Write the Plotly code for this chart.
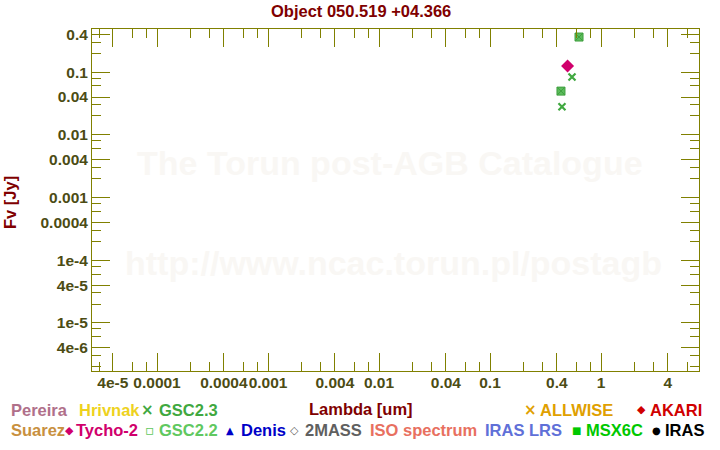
import plotly.graph_objects as go

# ---------------- data ----------------
tycho_lambda = [0.50]
tycho_flux = [0.125]
gsc23_lambda = [0.548, 0.445]
gsc23_flux = [0.0832, 0.0279]
gsc22_lambda = [0.634, 0.436]
gsc22_flux = [0.362, 0.0497]

x_tickvals = [4e-5, 1e-4, 4e-4, 1e-3, 4e-3, 1e-2, 4e-2, 0.1, 0.4, 1, 4]
x_ticktext = ["4e-5", "0.0001", "0.0004", "0.001", "0.004", "0.01", "0.04", "0.1", "0.4", "1", "4"]
y_tickvals = [0.4, 0.1, 0.04, 0.01, 0.004, 0.001, 4e-4, 1e-4, 4e-5, 1e-5, 4e-6]
y_ticktext = ["0.4", "0.1", "0.04", "0.01", "0.004", "0.001", "0.0004", "1e-4", "4e-5", "1e-5", "4e-6"]
minor_mult = [2, 3, 6, 8]
x_decades = list(range(-5, 1))
y_decades = list(range(-6, 0))

legend_labels = ["Pereira", "Hrivnak", "GSC2.3", "ALLWISE", "AKARI",
                 "Suarez", "Tycho-2", "GSC2.2", "Denis", "2MASS",
                 "ISO spectrum", "IRAS LRS", "MSX6C", "IRAS"]
legend_symbols = ["", "", "×", "×", "◆",
                  "", "◆", "▫", "▲", "◇",
                  "", "", "■", "●"]
legend_colors = ["#b0708a", "#eed21e", "#40a840", "#e0a000", "#d00000",
                 "#c89040", "#d0006c", "#60c860", "#0000c8", "#606060",
                 "#e87060", "#6070d8", "#00c800", "#000000"]

# ---------------- layout helpers ----------------
W, H = 720, 450
L, R, T, B = 92, 21, 29, 79
PW, PH = W - L - R, H - T - B

def px(x):
    return (x - L) / PW

def py(y):
    return 1 - (y - T) / PH

# legend positions (pixel): symbol center x, text left x, row y
leg_sym_x = [None, None, 147, 530, 641, None, 69, 150, 230, 294, None, None, 576, 656]
leg_txt_x = [9, 77, 157, 538, 648, 9, 74, 157, 239, 303, 368, 483, 584, 663]
leg_row_y = [410, 410, 410, 410, 410, 430, 430, 430, 430, 430, 430, 430, 430, 430]

FONT = "Liberation Sans, Arial, sans-serif"
OLIVE = "#808000"
TICKFONT = "#4c4c14"
DARKRED = "#800000"

fig = go.Figure()

fig.add_trace(go.Scatter(
    x=gsc22_lambda, y=gsc22_flux, mode="markers", name="GSC2.2",
    marker=dict(symbol="square-x", size=8, color="#5cbc5c",
                line=dict(color="#3f9f3f", width=1))))
fig.add_trace(go.Scatter(
    x=gsc23_lambda, y=gsc23_flux, mode="markers", name="GSC2.3",
    marker=dict(symbol="x-thin", size=7, color="#40a840",
                line=dict(color="#40a840", width=2.2))))
fig.add_trace(go.Scatter(
    x=tycho_lambda, y=tycho_flux, mode="markers", name="Tycho-2",
    marker=dict(symbol="diamond", size=10, color="#d0006c",
                line=dict(width=0))))

x_minor = [m * 10 ** d for d in x_decades for m in minor_mult]
y_minor = [m * 10 ** d for d in y_decades for m in minor_mult]

axis_common = dict(
    type="log", showgrid=False, zeroline=False,
    showline=True, linecolor=OLIVE, linewidth=1, mirror="ticks",
    ticks="inside", ticklen=18, tickwidth=1, tickcolor=OLIVE,
    tickmode="array", tickangle=0,
    tickfont=dict(family=FONT, size=15.5, color=TICKFONT, weight="bold"),
)

fig.update_xaxes(
    **axis_common, range=[-4.586, 0.883],
    tickvals=x_tickvals, ticktext=x_ticktext, ticklabelstandoff=-3,
    minor=dict(tickmode="array", tickvals=x_minor, ticks="inside",
               ticklen=9, tickcolor=OLIVE, tickwidth=1, showgrid=False),
)
fig.update_yaxes(
    **axis_common, range=[-5.767, -0.313],
    tickvals=y_tickvals, ticktext=y_ticktext,
    minor=dict(tickmode="array", tickvals=y_minor, ticks="inside",
               ticklen=9, tickcolor=OLIVE, tickwidth=1, showgrid=False),
)

def note(text, x, y, size, color, xanchor="center", family=FONT, angle=0):
    return dict(text=text, x=px(x), y=py(y), xanchor=xanchor, yanchor="middle",
                xref="paper", yref="paper", showarrow=False, textangle=angle,
                font=dict(family=family, size=size, color=color, weight="bold"))

ann = []
# watermark
ann.append(note("The Torun post-AGB Catalogue", 390, 163, 34, "#f9f7f4"))
ann.append(note("http://www.ncac.torun.pl/postagb", 393, 263, 34, "#f9f7f4"))
# title
ann.append(note("Object 050.519 +04.366", 361, 11, 16.5, DARKRED))
# axis titles
ann.append(note("Lambda [um]", 361, 409, 16.5, DARKRED))
ann.append(note("Fv [Jy]", 10, 203, 16.5, DARKRED, angle=-90))

# legend
sym_sizes = {"×": 15, "◆": 11, "▫": 14, "▲": 10, "◇": 11, "■": 10, "●": 10}
for lab, sym, col, sx, tx, ry in zip(legend_labels, legend_symbols, legend_colors,
                                     leg_sym_x, leg_txt_x, leg_row_y):
    if sym:
        ann.append(note(sym, sx, ry, sym_sizes[sym], col, family="DejaVu Sans"))
    ann.append(note(lab, tx, ry, 16.5, col, xanchor="left"))

fig.update_layout(
    width=W, height=H,
    margin=dict(l=L, r=R, t=T, b=B),
    paper_bgcolor="white", plot_bgcolor="white",
    showlegend=False,
    annotations=ann,
)

fig.write_html("out.html")
